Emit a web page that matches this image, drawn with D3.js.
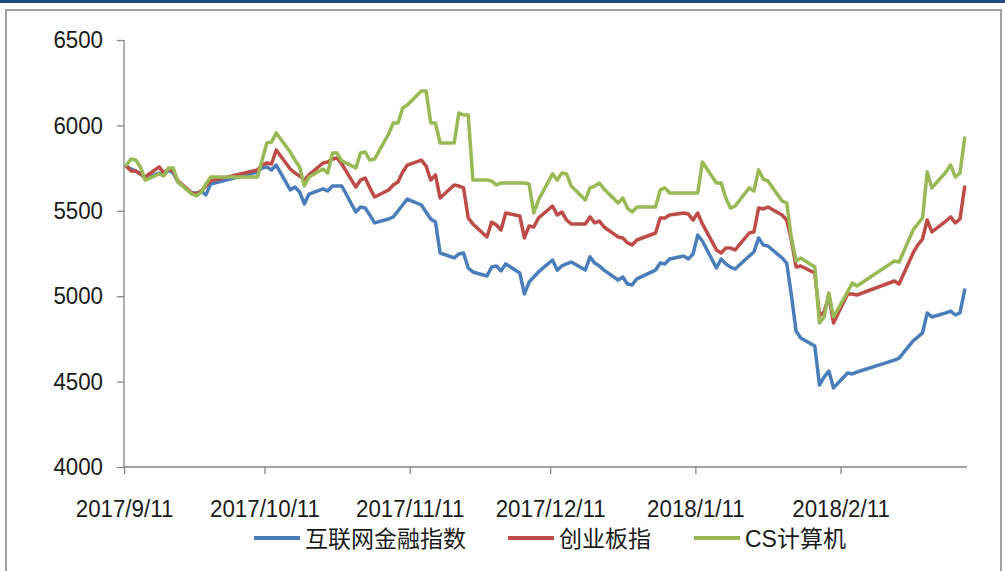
<!DOCTYPE html>
<html>
<head>
<meta charset="utf-8">
<script src="https://cdn.jsdelivr.net/npm/d3@7/dist/d3.min.js"></script>
<style>
  html, body { margin: 0; padding: 0; background: #fff; }
  svg { display: block; }
  .axis text { font-family: "Liberation Sans", Arial, sans-serif; font-size: 24px; fill: #1a1a1a; }
  .axis path, .axis line { stroke: #868686; stroke-width: 1.3; }
  .legend text { font-family: "Liberation Sans", "Noto Sans CJK SC", sans-serif; font-size: 23px; fill: #1a1a1a; }
</style>
</head>
<body>
<div id="chart"></div>
<script>
/* trading days, Excel date axis */
const dates = [
  "2017/9/11","2017/9/12","2017/9/13","2017/9/14","2017/9/15","2017/9/18","2017/9/19","2017/9/20","2017/9/21","2017/9/22",
  "2017/9/25","2017/9/26","2017/9/27","2017/9/28","2017/9/29",
  "2017/10/9","2017/10/10","2017/10/11","2017/10/12","2017/10/13","2017/10/16","2017/10/17","2017/10/18","2017/10/19","2017/10/20",
  "2017/10/23","2017/10/24","2017/10/25","2017/10/26","2017/10/27","2017/10/30","2017/10/31",
  "2017/11/1","2017/11/2","2017/11/3","2017/11/6","2017/11/7","2017/11/8","2017/11/9","2017/11/10","2017/11/13","2017/11/14",
  "2017/11/15","2017/11/16","2017/11/17","2017/11/20","2017/11/21","2017/11/22","2017/11/23","2017/11/24","2017/11/27","2017/11/28",
  "2017/11/29","2017/11/30",
  "2017/12/1","2017/12/4","2017/12/5","2017/12/6","2017/12/7","2017/12/8","2017/12/11","2017/12/12","2017/12/13","2017/12/14",
  "2017/12/15","2017/12/18","2017/12/19","2017/12/20","2017/12/21","2017/12/22","2017/12/25","2017/12/26","2017/12/27","2017/12/28",
  "2017/12/29",
  "2018/1/2","2018/1/3","2018/1/4","2018/1/5","2018/1/8","2018/1/9","2018/1/10","2018/1/11","2018/1/12","2018/1/15",
  "2018/1/16","2018/1/17","2018/1/18","2018/1/19","2018/1/22","2018/1/23","2018/1/24","2018/1/25","2018/1/26","2018/1/29",
  "2018/1/30","2018/1/31",
  "2018/2/1","2018/2/2","2018/2/5","2018/2/6","2018/2/7","2018/2/8","2018/2/9","2018/2/12","2018/2/13","2018/2/14",
  "2018/2/22","2018/2/23","2018/2/26","2018/2/27","2018/2/28",
  "2018/3/1","2018/3/2","2018/3/5","2018/3/6","2018/3/7","2018/3/8","2018/3/9"
];

const internetFinance = [
  5762,5745,5733,5716,5692,5721,5710,5739,5721,5669,5604,5604,5616,5593,5657,
  5727,5751,5757,5739,5768,5622,5639,5610,5540,5598,5628,5616,5645,5645,5645,5493,5522,
  5516,5475,5429,5452,5464,5499,5534,5569,5534,5493,5452,5434,5253,5224,5247,5253,5165,5142,5118,5171,5177,5148,
  5189,5136,5013,5083,5112,5142,5212,5153,5177,5189,5200,5153,5230,5194,5177,5153,5095,5112,5071,5066,5101,
  5153,5194,5189,5218,5235,5218,5247,5358,5323,5165,5218,5189,5171,5159,5235,5259,5341,5300,5294,5224,5194,5007,
  4796,4755,4708,4480,4527,4562,4463,4550,4545,4556,4626,4638,4738,4761,4785,
  4902,4878,4902,4913,4890,4902,5036
];

const chinext = [
  5762,5733,5733,5716,5698,5757,5721,5745,5733,5675,5604,5598,5616,5645,5675,
  5739,5768,5780,5774,5856,5745,5721,5704,5680,5710,5780,5786,5803,5809,5774,5639,5680,
  5692,5634,5581,5622,5651,5669,5727,5768,5797,5762,5680,5710,5575,5651,5645,5634,5458,5423,5347,5434,5417,5388,
  5487,5470,5341,5411,5405,5458,5528,5475,5493,5446,5423,5423,5464,5429,5440,5405,5347,5341,5312,5300,5329,
  5370,5458,5458,5475,5487,5481,5446,5487,5423,5271,5253,5282,5282,5271,5370,5376,5516,5511,5522,5475,5446,5329,
  5171,5177,5136,4884,4908,5001,4843,5013,5013,5007,5089,5071,5253,5300,5335,
  5446,5376,5440,5464,5429,5452,5639
];

const csComputer = [
  5768,5803,5797,5757,5680,5716,5704,5751,5751,5669,5598,5587,5610,5657,5698,
  5698,5797,5897,5903,5956,5844,5797,5757,5645,5698,5745,5721,5838,5838,5792,5751,5838,
  5844,5797,5803,5950,6014,6014,6102,6119,6201,6201,6014,6014,5897,5897,6073,6061,6061,5680,5680,5675,5651,5663,
  5663,5663,5663,5657,5487,5563,5716,5680,5721,5716,5645,5563,5634,5645,5663,5628,5546,5575,5516,5493,5522,
  5522,5622,5634,5604,5604,5604,5604,5604,5786,5663,5663,5575,5516,5528,5634,5616,5739,5686,5675,5557,5546,5341,
  5206,5224,5171,4843,4878,5019,4878,5025,5077,5060,5206,5200,5388,5423,5458,
  5727,5634,5727,5768,5698,5721,5926
];

const seriesNames = ["互联网金融指数", "创业板指", "CS计算机"];
const seriesColors = ["#4A7EBB", "#BE4B48", "#98B954"];
const yTicks = [4000, 4500, 5000, 5500, 6000, 6500];
const xTicks = ["2017/9/11", "2017/10/11", "2017/11/11", "2017/12/11", "2018/1/11", "2018/2/11"];
const xStart = "2017/9/11";
const xEnd = "2018/3/10";

const width = 1005;
const height = 571;
const margin = { top: 40, right: 38, bottom: 104, left: 124 };
const textScale = 0.93;   // source font is a bit narrower than Liberation Sans

const parseDate = d3.timeParse("%Y/%m/%d");
const fmtDate = d3.timeFormat("%Y/%-m/%-d");

const svg = d3.select("#chart")
    .append("svg")
    .attr("width", width)
    .attr("height", height);

// outer frame like the exported picture
svg.append("rect")
    .attr("x", 0).attr("y", 0)
    .attr("width", width).attr("height", 3)
    .attr("fill", "#1F497D");
svg.append("rect")
    .attr("x", 6).attr("y", 10)
    .attr("width", 995).attr("height", 600)
    .attr("fill", "none")
    .attr("stroke", "#a0a0a0")
    .attr("stroke-width", 2);

const x = d3.scaleTime()
    .domain([parseDate(xStart), parseDate(xEnd)])
    .range([margin.left, width - margin.right]);

const y = d3.scaleLinear()
    .domain([4000, 6500])
    .range([height - margin.bottom, margin.top]);

// y axis
const yAxis = svg.append("g")
    .attr("class", "axis")
    .attr("transform", `translate(${margin.left},0)`)
    .call(d3.axisLeft(y).tickValues(yTicks).tickSize(7).tickPadding(14).tickFormat(d3.format("d")));

yAxis.selectAll(".tick text")
    .attr("x", -21 / textScale)
    .attr("transform", `scale(${textScale},1)`);

// x axis
const xAxis = svg.append("g")
    .attr("class", "axis")
    .attr("transform", `translate(0,${y(4000)})`)
    .call(d3.axisBottom(x)
        .tickValues(xTicks.map(parseDate))
        .tickSize(7)
        .tickPadding(26)
        .tickFormat(fmtDate));

xAxis.selectAll(".tick text")
    .attr("transform", `scale(${textScale},1)`);

// plain axis lines without end caps
yAxis.select(".domain").attr("d", `M0,${y(6500)}V${y(4000)}`);
xAxis.select(".domain").attr("d", `M${margin.left},0H${x(parseDate(xEnd))}`);

// points sit in the middle of their day slot (Excel date axis)
const halfDay = 12 * 3600 * 1000;
const line = d3.line()
    .x(d => x(new Date(d.date.getTime() + halfDay)))
    .y(d => y(d.value));

const allSeries = [internetFinance, chinext, csComputer].map((vals, i) => ({
    name: seriesNames[i],
    color: seriesColors[i],
    points: dates.map((dt, j) => ({ date: parseDate(dt), value: vals[j] }))
}));

svg.append("g")
    .selectAll("path")
    .data(allSeries)
    .enter()
    .append("path")
    .attr("d", d => line(d.points))
    .attr("fill", "none")
    .attr("stroke", d => d.color)
    .attr("stroke-width", 3.5)
    .attr("stroke-linejoin", "round")
    .attr("stroke-linecap", "round");

// legend
const legendX = [254, 508, 694];
const legend = svg.append("g").attr("class", "legend");
allSeries.forEach((s, i) => {
    legend.append("line")
        .attr("x1", legendX[i]).attr("x2", legendX[i] + 46)
        .attr("y1", 538).attr("y2", 538)
        .attr("stroke", s.color)
        .attr("stroke-width", 4);
    legend.append("text")
        .attr("x", legendX[i] + 51)
        .attr("y", 547)
        .text(s.name);
});
</script>
</body>
</html>
